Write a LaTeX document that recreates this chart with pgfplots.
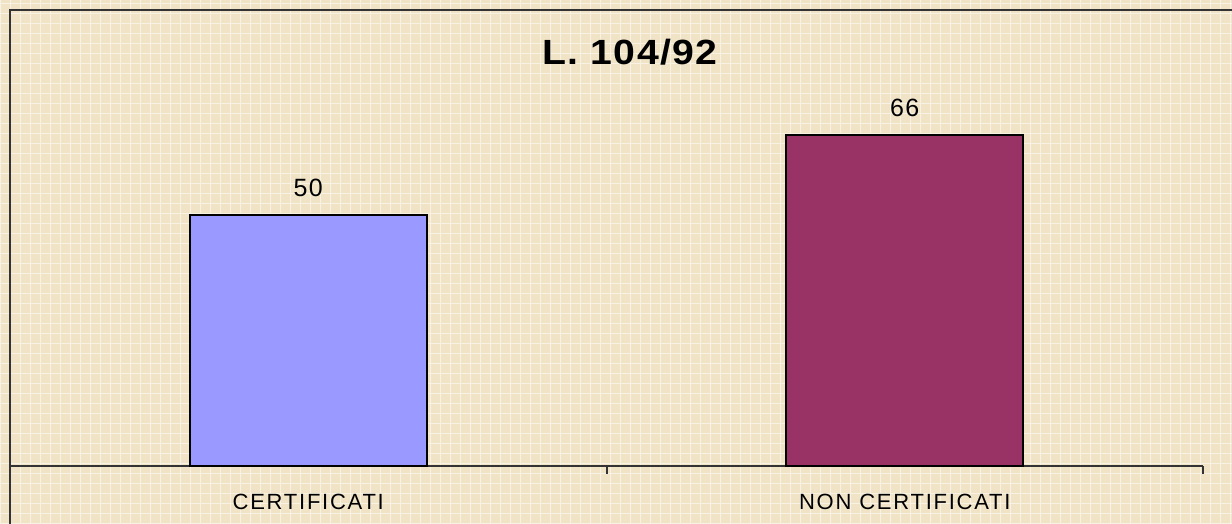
\documentclass[border=0pt]{standalone}
\usepackage{fontspec}
\setmainfont{Liberation Sans}
\usepackage{pgfplots}
\pgfplotsset{compat=1.18}
\definecolor{bgc}{HTML}{F1E4C6}
\definecolor{barA}{HTML}{9999FF}
\definecolor{barB}{HTML}{993366}
\definecolor{axc}{HTML}{333333}
\begin{document}
\begin{tikzpicture}
\useasboundingbox (0,0) rectangle (616pt,262pt);
\fill[bgc] (0,0) rectangle (616pt,262pt);
\draw[white, opacity=0.55, line width=0.5pt, step=5pt] (0,0) grid (616pt,262pt);
\draw[axc, line width=1pt] (5pt,0) -- (5pt,257pt) -- (616pt,257pt);
\node[anchor=base, font=\fontsize{17.5}{20}\selectfont\bfseries\addfontfeature{FakeStretch=1.12,LetterSpace=4}] at (315pt,229.5pt) {L. 104/92};
\begin{axis}[
  at={(5pt,29pt)}, anchor=south west,
  scale only axis, width=596.5pt, height=175.5pt,
  xmin=0, xmax=2, ymin=0, ymax=70,
  axis y line=none, axis x line*=bottom,
  x axis line style={line width=1pt, axc},
  xtick={0.5,1.5},
  xticklabels={CERTIFICATI, NON CERTIFICATI},
  major tick length=0pt,
  minor xtick={0,1,2},
  minor tick length=4pt,
  tick align=outside,
  minor tick style={line width=1pt, axc},
  xticklabel style={font=\fontsize{11}{13}\selectfont\addfontfeature{LetterSpace=8}, anchor=base, yshift=-22pt, inner sep=0pt},
  ybar, bar shift=0pt, bar width=0.397,
  /pgf/number format/assume math mode=true,
  nodes near coords,
  every node near coord/.append style={font=\fontsize{12.5}{15}\selectfont\addfontfeature{LetterSpace=5}, anchor=base, yshift=9.5pt, inner sep=0pt, black},
  clip=false,
]
\addplot[fill=barA, draw=black, line width=1pt] coordinates {(0.5,50)};
\addplot[fill=barB, draw=black, line width=1pt] coordinates {(1.5,66)};
\end{axis}
\end{tikzpicture}
\end{document}
